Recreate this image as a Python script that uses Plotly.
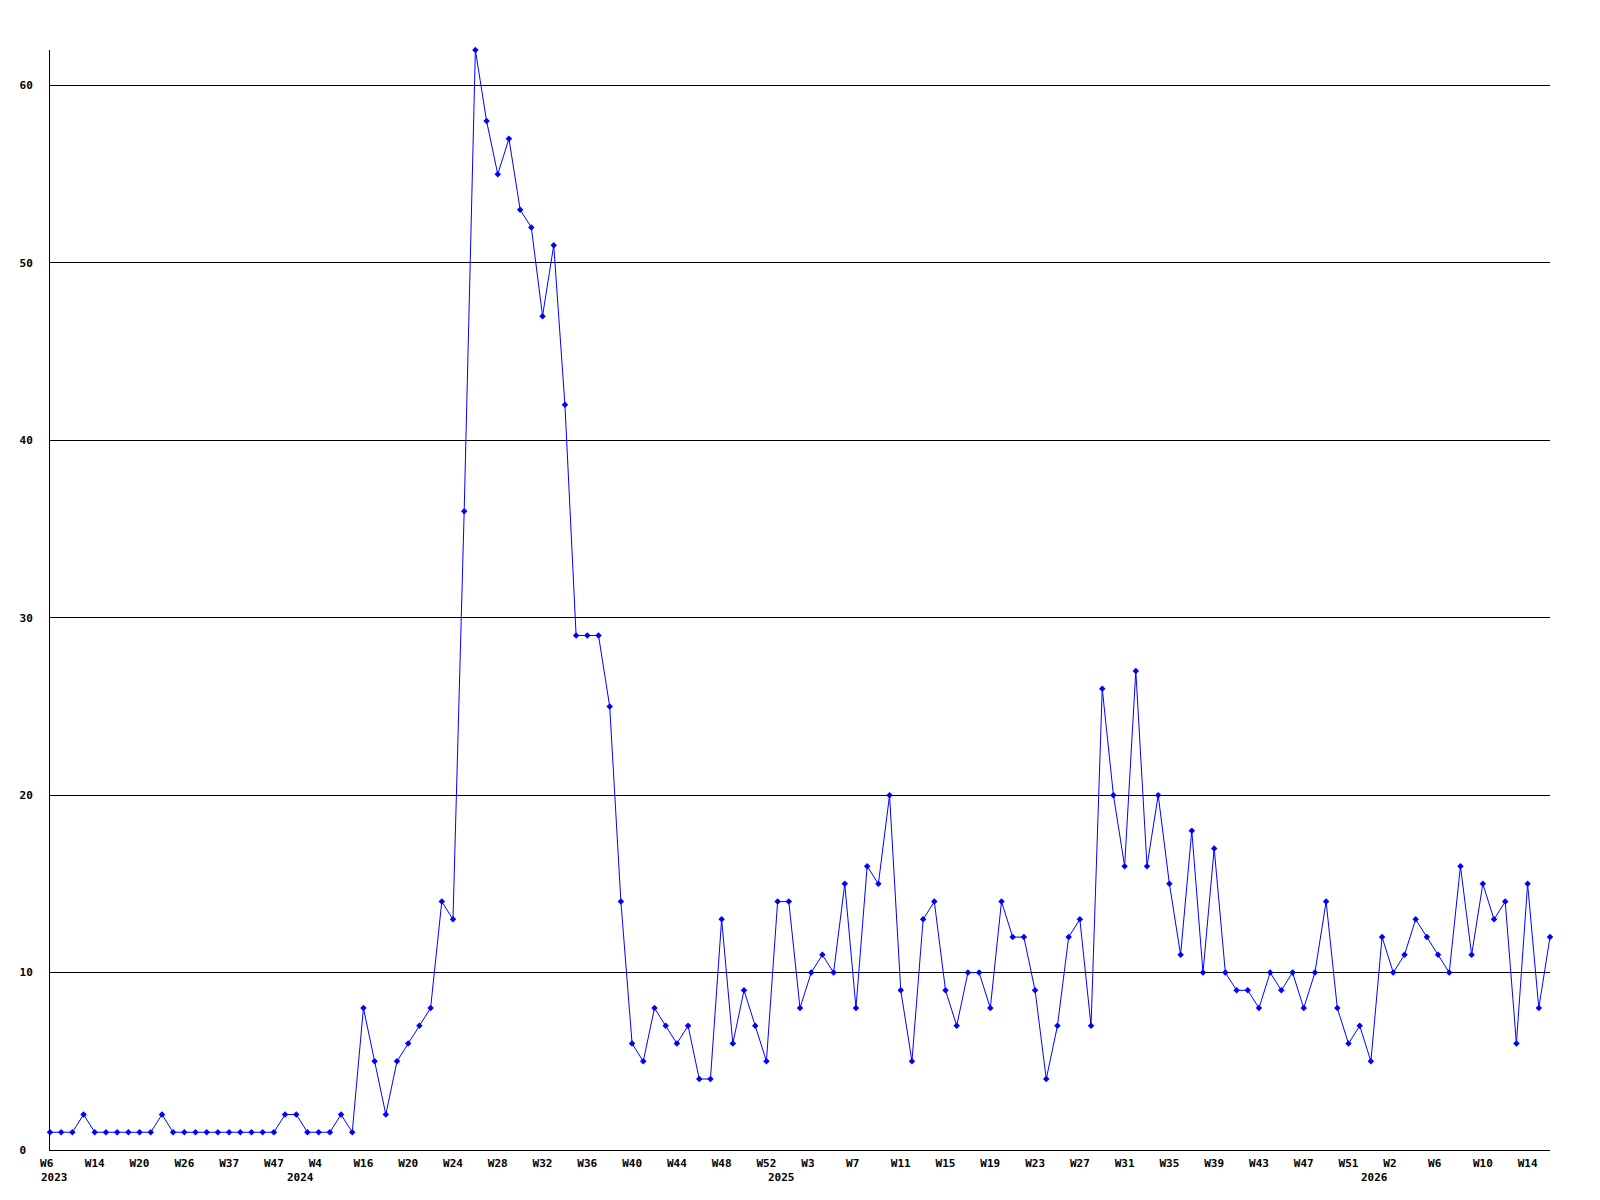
import plotly.graph_objects as go

# ---- data ----
values = [
    1, 1, 1, 2, 1, 1, 1, 1, 1, 1,
    2, 1, 1, 1, 1, 1, 1, 1, 1, 1,
    1, 2, 2, 1, 1, 1, 2, 1, 8, 5,
    2, 5, 6, 7, 8, 14, 13, 36, 62, 58,
    55, 57, 53, 52, 47, 51, 42, 29, 29, 29,
    25, 14, 6, 5, 8, 7, 6, 7, 4, 4,
    13, 6, 9, 7, 5, 14, 14, 8, 10, 11,
    10, 15, 8, 16, 15, 20, 9, 5, 13, 14,
    9, 7, 10, 10, 8, 14, 12, 12, 9, 4,
    7, 12, 13, 7, 26, 20, 16, 27, 16, 20,
    15, 11, 18, 10, 17, 10, 9, 9, 8, 10,
    9, 10, 8, 10, 14, 8, 6, 7, 5, 12,
    10, 11, 13, 12, 11, 10, 16, 11, 15, 13,
    14, 6, 15, 8, 12,
]

week_labels = ["W6", "W14", "W20", "W26", "W37", "W47", "W4", "W16", "W20", "W24",
               "W28", "W32", "W36", "W40", "W44", "W48", "W52", "W3", "W7", "W11",
               "W15", "W19", "W23", "W27", "W31", "W35", "W39", "W43", "W47", "W51",
               "W2", "W6", "W10", "W14"]
week_label_step = 4

year_labels = ["2023", "2024", "2025", "2026"]
year_label_index = [0, 22, 65, 118]

y_ticks = [0, 10, 20, 30, 40, 50, 60]

# ---- figure ----
x = list(range(len(values)))
week_tickvals = [i * week_label_step for i in range(len(week_labels))]
# pad 2-char labels so that centred labels start at the same place as 3-char ones
week_ticktext = [w if len(w) >= 3 else w + "\u00a0" for w in week_labels]
y_ticktext = [str(v) if v >= 10 else str(v) + "\u00a0" for v in y_ticks]

FONT = "DejaVu Sans Mono"

fig = go.Figure()
fig.add_trace(go.Scatter(
    x=x, y=values,
    mode="lines+markers",
    line=dict(color="#0000ff", width=1),
    marker=dict(color="#0000ff", symbol="diamond", size=5),
    cliponaxis=False,
    showlegend=False,
    hoverinfo="x+y",
))

for label, idx in zip(year_labels, year_label_index):
    fig.add_annotation(
        x=idx, xref="x", y=0, yref="paper",
        text=label, showarrow=False,
        xanchor="left", yanchor="middle",
        xshift=-11.5, yshift=-27.5,
        font=dict(family=FONT, size=11, color="black", weight="bold"),
    )

fig.update_layout(
    width=1584, height=1184,
    margin=dict(l=42, r=42, t=42, b=42),
    paper_bgcolor="white", plot_bgcolor="white",
    font=dict(family=FONT, size=11, color="black", weight="bold"),
    xaxis=dict(
        range=[0, len(values) - 1],
        tickmode="array", tickvals=week_tickvals, ticktext=week_ticktext,
        showgrid=False, zeroline=False,
        showline=True, linecolor="black", linewidth=1,
        ticks="", tickangle=0, ticklabelstandoff=3,
        tickfont=dict(family=FONT, size=11, color="black", weight="bold"),
    ),
    yaxis=dict(
        range=[0, 62],
        tickmode="array", tickvals=y_ticks, ticktext=y_ticktext,
        showgrid=True, gridcolor="black", gridwidth=1,
        zeroline=False,
        showline=True, linecolor="black", linewidth=1,
        ticks="", ticklabelstandoff=14,
        tickfont=dict(family=FONT, size=11, color="black", weight="bold"),
    ),
)

fig.write_html("out.html")
